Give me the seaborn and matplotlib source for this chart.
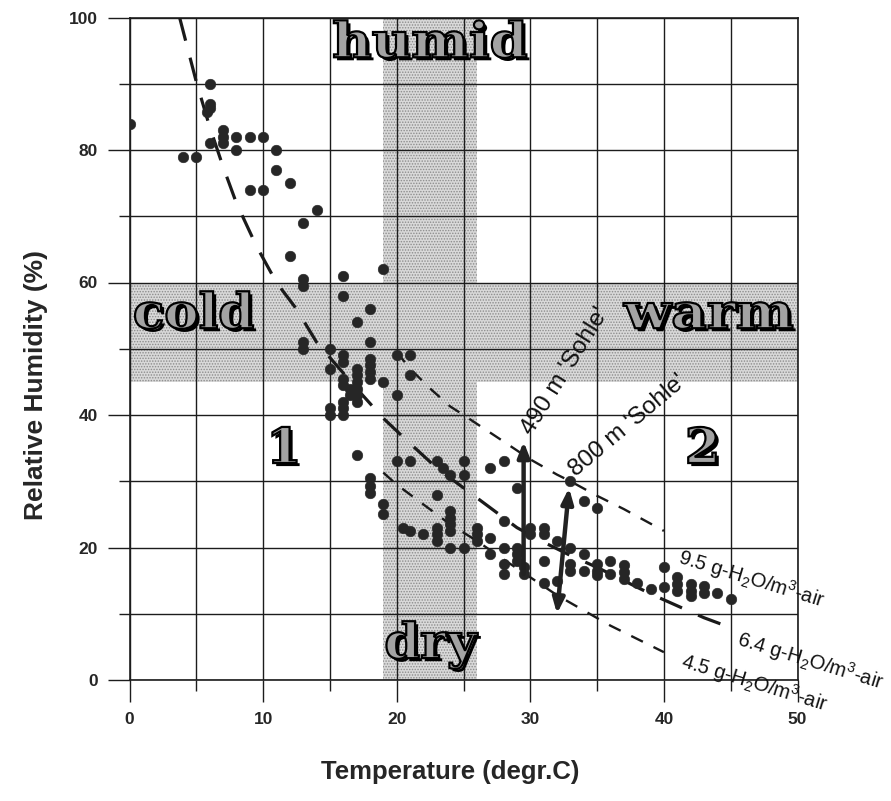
import matplotlib
matplotlib.use("Agg")
import matplotlib.pyplot as plt
import matplotlib.patheffects as pe
from matplotlib.ticker import MultipleLocator
from matplotlib.textpath import TextPath
from matplotlib.font_manager import FontProperties
from matplotlib.patches import PathPatch
from matplotlib.transforms import Affine2D
import seaborn as sns
import pandas as pd

# Measured air temperature (degr.C) and relative humidity (%)
temperature = [
    0, 4, 5, 6, 6, 6, 5.8, 6, 7, 7, 7, 8, 9, 10, 8, 11, 11, 12, 9, 10, 14, 13, 12, 13, 13,
    19, 16, 16, 18, 17, 18, 13, 13, 15, 15, 16, 16, 20, 21, 21,
    17, 17, 17, 17, 17, 17, 16, 16, 18, 18, 18, 18, 19, 20, 15, 15, 16, 16, 16, 16.5, 16.5,
    17, 18, 18, 18, 19, 19, 20, 21, 23, 23.5, 24, 25, 25, 27, 28, 29, 23, 33,
    20.5, 21, 22, 23, 23, 23, 24, 24, 24, 24, 24, 25, 26, 26, 26, 27, 27, 28, 28, 28, 28,
    29, 29, 29, 29.5, 29.5, 30, 30, 31, 31, 31, 31, 32, 33, 32, 33, 33, 34, 34, 35, 35, 35,
    34, 35, 36, 36, 37, 37, 37, 38, 39, 40, 40, 41, 41, 41, 42, 42, 42, 43, 43, 44, 45,
]
rel_humidity = [
    84, 79, 79, 90, 87, 86.3, 85.8, 81, 83, 82, 81, 82, 82, 82, 80, 80, 77, 75, 74, 74, 71, 69, 64, 60.5, 59.5,
    62, 61, 58, 56, 54, 51, 51, 50, 50, 47, 49, 48, 49, 49, 46,
    47, 46, 45, 44, 43, 42, 45.5, 44.5, 48.5, 47.5, 46.5, 45.5, 45, 43, 41, 40, 42, 41, 40, 44, 43,
    34, 30.5, 29.3, 28.2, 26.5, 25, 33, 33, 33, 32, 31, 33, 31, 32, 33, 29, 28, 30,
    23, 22.5, 22, 23, 22, 21, 25.5, 24.5, 23.5, 22.5, 20, 20, 23, 22, 21, 19, 21.5, 20, 24, 17.5, 16,
    20, 19, 18, 17, 16, 23, 22, 23, 22, 18, 14.7, 21, 20, 15, 17.5, 16.5, 19, 16.5, 17.5, 16.5, 15.8,
    27, 26, 18, 16, 17.3, 16.3, 15.3, 14.7, 13.7, 17, 14, 15.5, 14.5, 13.5, 14.5, 13.5, 12.7, 14.2, 13.2, 13.2, 12.2,
]

# Lines of constant absolute humidity
curve_95_t = [20, 21, 22.5, 24, 25, 26.5, 28, 30, 32, 33, 35, 37, 39, 40]
curve_95_rh = [49.5, 47, 44, 41.3, 40, 38, 36, 33.3, 31, 30, 27.8, 25.8, 23.6, 22.5]

curve_64_t = [3.75, 5, 6, 7, 8, 9.5, 11, 12.5, 14, 15.5, 17, 19, 21, 23, 25, 27, 29, 31, 33, 35, 37, 39, 41, 43, 45]
curve_64_rh = [100, 90.3, 83.5, 77.5, 72, 65.5, 60, 56, 51, 47.5, 44, 39.5, 35.7, 32, 29, 26, 23, 20.8, 18.8, 17, 15, 13, 11.2, 9.4, 7.9]

curve_45_t = [19, 20, 22, 24, 26, 28, 30, 32, 34, 36, 38, 40]
curve_45_rh = [31.3, 29.5, 26.5, 23.5, 21, 18.2, 15.5, 12.8, 10.5, 8.2, 6.2, 4.2]

# Level arrows: (temperature, humidity) at tail and head
sohle_490 = [(29.5, 16), (29.5, 36)]
sohle_800 = [(32.0, 10), (32.9, 29)]

sns.set_style("ticks")
plt.rcParams["font.family"] = ["Liberation Sans", "DejaVu Sans"]
plt.rcParams["mathtext.fontset"] = "custom"
plt.rcParams["mathtext.rm"] = "Liberation Sans"
plt.rcParams["mathtext.default"] = "regular"
plt.rcParams["hatch.linewidth"] = 0.7

DPI = 100
fig = plt.figure(figsize=(8.91, 8.01), dpi=DPI)
ax = fig.add_axes([129.5 / 891, 121 / 801, 668 / 891, 662.5 / 801])

ax.set_xlim(0, 50)
ax.set_ylim(0, 100)

# stippled zones: dry/humid band and cold/warm band
band_kw = dict(facecolor="#d9d9d9", edgecolor="#8c8c8c", hatch="......", linewidth=0, zorder=0)
ax.axvspan(19, 26, **band_kw)
ax.axhspan(45, 60, xmin=0, xmax=19 / 50, **band_kw)
ax.axhspan(45, 60, xmin=26 / 50, xmax=1, **band_kw)

ax.xaxis.set_major_locator(MultipleLocator(10))
ax.xaxis.set_minor_locator(MultipleLocator(5))
ax.yaxis.set_major_locator(MultipleLocator(20))
ax.yaxis.set_minor_locator(MultipleLocator(10))
ax.grid(True, which="both", color="#1c1c1c", linewidth=1.0, zorder=1)
ax.set_axisbelow(True)
ax.tick_params(which="major", direction="out", length=16, width=1.0, color="#1c1c1c",
               labelsize=12.5, pad=7)
ax.tick_params(which="minor", direction="out", length=8, width=1.0, color="#1c1c1c")
for lab in ax.get_xticklabels() + ax.get_yticklabels():
    lab.set_fontweight("bold")
for sp in ax.spines.values():
    sp.set_color("#1c1c1c")
    sp.set_linewidth(1.2)

# constant absolute humidity curves
sns.lineplot(x=curve_64_t, y=curve_64_rh, sort=False, estimator=None, ax=ax, color="#1a1a1a",
             linewidth=2.3, linestyle=(0, (7.5, 5.5)), zorder=3)
sns.lineplot(x=curve_95_t, y=curve_95_rh, sort=False, estimator=None, ax=ax, color="#1a1a1a",
             linewidth=1.7, linestyle=(0, (5.5, 5)), zorder=3)
sns.lineplot(x=curve_45_t, y=curve_45_rh, sort=False, estimator=None, ax=ax, color="#1a1a1a",
             linewidth=1.7, linestyle=(0, (5.5, 5)), zorder=3)

# measurements
data = pd.DataFrame({"Temperature": temperature, "RH": rel_humidity})
sns.scatterplot(data=data, x="Temperature", y="RH", ax=ax, s=58, color="#262626",
                edgecolor="#262626", linewidth=0.4, zorder=5, legend=False)

# level arrows
ax.annotate("", xy=sohle_490[1], xytext=sohle_490[0], zorder=6,
            arrowprops=dict(arrowstyle="-|>,head_length=0.9,head_width=0.35", lw=3.2,
                            color="#222222", shrinkA=0, shrinkB=0))
ax.annotate("", xy=sohle_800[1], xytext=sohle_800[0], zorder=6,
            arrowprops=dict(arrowstyle="<|-|>,head_length=0.9,head_width=0.35", lw=3.2,
                            color="#222222", shrinkA=0, shrinkB=0))

ax.text(30.1, 36.8, "490 m 'Sohle'", rotation=58, rotation_mode="anchor", ha="left",
        va="baseline", fontsize=17.5, color="#111111", zorder=7)
ax.text(33.4, 30.6, "800 m 'Sohle'", rotation=40, rotation_mode="anchor", ha="left",
        va="baseline", fontsize=17.5, color="#111111", zorder=7)

curve_label_kw = dict(rotation=-17, rotation_mode="anchor", ha="left", va="baseline",
                      fontsize=14.5, color="#111111", zorder=7, clip_on=False)
ax.text(41.0, 17.7, r"9.5 g-H$_2$O/m$^3$-air", **curve_label_kw)
ax.text(45.4, 5.3, r"6.4 g-H$_2$O/m$^3$-air", **curve_label_kw)
ax.text(41.2, 1.9, r"4.5 g-H$_2$O/m$^3$-air", **curve_label_kw)

# zone names in wide, shadowed outline lettering
fig.canvas.draw()
bbox = ax.get_window_extent()
px_per_x = bbox.width / 50.0
px_per_y = bbox.height / 100.0
pt_to_px = DPI / 72.0
zone_font = FontProperties(family="DejaVu Serif", weight="bold")


def zone_label(text, x, y, size, stretch):
    path = TextPath((0, 0), text, size=size, prop=zone_font)
    ext = path.get_extents()
    tr = (Affine2D().translate(-(ext.x0 + ext.x1) / 2.0, 0)
          .scale(stretch * pt_to_px / px_per_x, pt_to_px / px_per_y)
          .translate(x, y) + ax.transData)
    patch = PathPatch(path, transform=tr, facecolor="#a3a3a3", edgecolor="black",
                      linewidth=1.6, zorder=8, clip_on=False)
    patch.set_path_effects([pe.SimplePatchShadow(offset=(2.2, -2.2), shadow_rgbFace="black",
                                                 alpha=1.0), pe.Normal()])
    ax.add_patch(patch)


zone_label("humid", 22.5, 94.0, 35, 1.12)
zone_label("dry", 22.65, 3.3, 35, 1.05)
zone_label("cold", 4.83, 53.1, 35, 1.06)
zone_label("warm", 43.3, 53.1, 35, 1.13)
zone_label("1", 11.6, 32.75, 35, 1.05)
zone_label("2", 42.85, 32.75, 35, 1.05)

ax.set_xlabel("Temperature (degr.C)", fontsize=18.5, fontweight="bold")
ax.set_ylabel("Relative Humidity (%)", fontsize=19, fontweight="bold")
ax.xaxis.set_label_coords(0.48, -0.121)
ax.yaxis.set_label_coords(-0.122, 0.445)

fig.savefig("out.png", dpi=DPI)
